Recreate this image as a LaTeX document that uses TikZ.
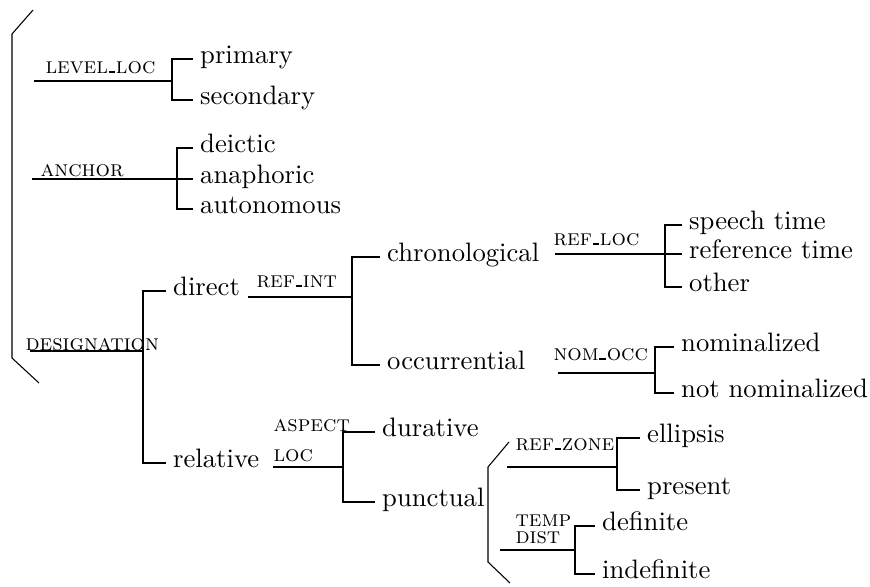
\documentclass[tikz,border=0pt]{standalone}
\usetikzlibrary{positioning}
\newcommand{\usc}{\kern0.2pt\rule{2.6pt}{0.7pt}\kern0.2pt}
\tikzset{
  leaf/.style={anchor=west, inner sep=2.5pt, text height=3.4pt, text depth=0pt},
  lbl/.style={anchor=base west, inner sep=0pt, font=\fontsize{8.5}{10}\selectfont\scshape},
  stem/.style={line width=0.55pt},
  brk/.style={line width=0.9pt},
  edge/.style={line width=0.4pt}
}
\begin{document}
\begin{tikzpicture}[x=0.375pt,y=-0.375pt]
\useasboundingbox (0,0) rectangle (870,586);
% outer bracket
\coordinate (o1) at (33,10);
\coordinate (o2) at (12,34);
\coordinate (o3) at (12,358);
\coordinate (o4) at (39,383);
\draw[edge] (o1) -- (o2) -- (o3) -- (o4);
% level loc
\node[lbl] (lvlloc) at (45,73) {level\usc loc};
\coordinate (lvl0) at (34,81);
\coordinate (lvl) at (172,81);
\node[leaf] (prim) at (193,59) {primary};
\node[leaf] (sec) at (193,100) {secondary};
\draw[stem] (lvl0) -- (lvl);
\draw[brk] (prim.west) -| (lvl) |- (sec.west);
% anchor
\node[lbl] (anchor) at (40,176) {anchor};
\coordinate (anc0) at (32,179);
\coordinate (anc) at (177,179);
\node[leaf] (dei) at (193,148) {deictic};
\node[leaf] (ana) at (193,179) {anaphoric};
\node[leaf] (aut) at (193,209) {autonomous};
\draw[stem] (anc0) -- (ana.west);
\draw[brk] (dei.west) -| (anc) |- (aut.west);
% designation
\node[lbl] (desig) at (25,350) {designation};
\coordinate (des0) at (30,351);
\coordinate (des) at (143,351);
\node[leaf] (dir) at (166,291) {direct};
\node[leaf] (rel) at (166,463) {relative};
\draw[stem] (des0) -- (des);
\draw[brk] (dir.west) -| (des) |- (rel.west);
% ref int
\node[lbl] (refint) at (256,287) {ref\usc int};
\coordinate (ri0) at (248,297);
\coordinate (ri) at (352,297);
\node[leaf] (chr) at (380,257) {chronological};
\node[leaf] (occ) at (380,365) {occurrential};
\draw[stem] (ri0) -- (ri);
\draw[brk] (chr.west) -| (ri) |- (occ.west);
% ref loc
\node[lbl] (refloc) at (553,245) {ref\usc loc};
\coordinate (rl0) at (555,254);
\coordinate (rl) at (665,254);
\node[leaf] (spt) at (682,225) {speech time};
\node[leaf] (rft) at (682,254) {reference time};
\node[leaf] (oth) at (682,287) {other};
\draw[stem] (rl0) -- (rft.west);
\draw[brk] (spt.west) -| (rl) |- (oth.west);
% nom occ
\node[lbl] (nomocc) at (553,360) {nom\usc occ};
\coordinate (no0) at (558,373);
\coordinate (no) at (655,373);
\node[leaf] (nom) at (674,347) {nominalized};
\node[leaf] (nnom) at (674,393) {not nominalized};
\draw[brk] (no0) -- (no);
\draw[brk] (nom.west) -| (no) |- (nnom.west);
% aspect loc
\node[lbl] (aspect) at (273,431) {aspect};
\node[lbl] (asploc) at (273,461) {loc};
\coordinate (al0) at (273,467);
\coordinate (al) at (343,467);
\node[leaf] (dur) at (375,432) {durative};
\node[leaf] (pun) at (375,502) {punctual};
\draw[stem] (al0) -- (al);
\draw[brk] (dur.west) -| (al) |- (pun.west);
% inner bracket
\coordinate (i1) at (509,442);
\coordinate (i2) at (488,467);
\coordinate (i3) at (488,562);
\coordinate (i4) at (510,583);
\draw[edge] (i1) -- (i2) -- (i3) -- (i4);
% ref zone
\node[lbl] (refzone) at (515,450) {ref\usc zone};
\coordinate (rz0) at (507,467);
\coordinate (rz) at (617,467);
\node[leaf] (ell) at (640,438) {ellipsis};
\node[leaf] (pre) at (640,490) {present};
\draw[stem] (rz0) -- (rz);
\draw[brk] (ell.west) -| (rz) |- (pre.west);
% temp dist
\node[lbl] (temp) at (515,526) {temp};
\node[lbl] (dist) at (515,543) {dist};
\coordinate (td0) at (500,550);
\coordinate (td) at (575,550);
\node[leaf] (def) at (595,526) {definite};
\node[leaf] (ind) at (595,574) {indefinite};
\draw[stem] (td0) -- (td);
\draw[brk] (def.west) -| (td) |- (ind.west);
\end{tikzpicture}
\end{document}
